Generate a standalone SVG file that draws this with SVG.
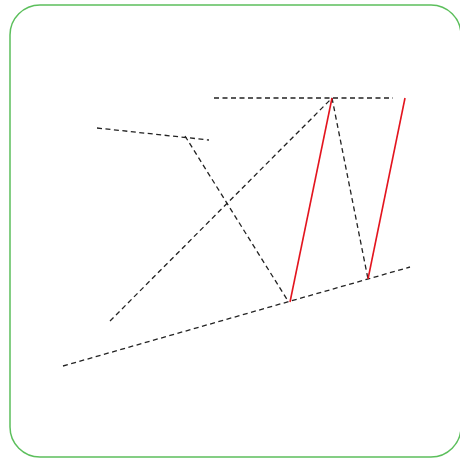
<svg xmlns="http://www.w3.org/2000/svg" width="460" height="458" viewBox="0 0 460 458">
<style>
.d{fill:none;stroke:#222;stroke-width:1.3;stroke-dasharray:5 3.5}
.r{fill:none;stroke:#e3141e;stroke-width:1.6}
</style>
<rect x="0" y="0" width="460" height="458" fill="#fff"/>
<rect x="10" y="5" width="451" height="452" rx="30" ry="30" fill="none" stroke="#5cbf5c" stroke-width="1.5"/>
<g id="connectors">
<line class="d" x1="214" y1="98" x2="393" y2="98"/>
<line class="d" x1="97" y1="128" x2="209" y2="140"/>
<line class="d" x1="185" y1="136" x2="288" y2="301"/>
<line class="d" x1="110" y1="321" x2="332" y2="98"/>
<line class="d" x1="63" y1="366" x2="410" y2="267"/>
<line class="d" x1="332" y1="98" x2="368" y2="279"/>
<line class="r" x1="290" y1="302" x2="332" y2="98"/>
<line class="r" x1="368" y1="279" x2="405" y2="98"/>
</g>
</svg>
